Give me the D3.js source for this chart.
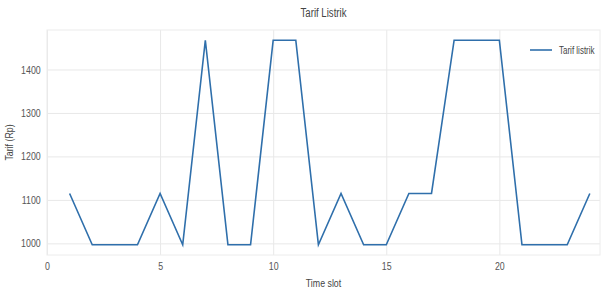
<!DOCTYPE html>
<html>
<head>
<meta charset="utf-8">
<script src="https://cdn.jsdelivr.net/npm/d3@7"></script>
<style>
  body { margin: 0; background: #fff; }
  text { font-family: "Liberation Sans", Arial, sans-serif; }
</style>
</head>
<body>
<svg></svg>
<script>
// Chart data: tariff per time slot
const slots = [1, 2, 3, 4, 5, 6, 7, 8, 9, 10, 11, 12, 13, 14, 15, 16, 17, 18, 19, 20, 21, 22, 23, 24];
const tarif = [1114.74, 996.74, 996.74, 996.74, 1114.74, 996.74, 1467.28, 996.74, 996.74, 1467.28, 1467.28, 996.74,
               1114.74, 996.74, 996.74, 1114.74, 1114.74, 1467.28, 1467.28, 1467.28, 996.74, 996.74, 996.74, 1114.74];
const xTicks = [0, 5, 10, 15, 20];
const yTicks = [1000, 1100, 1200, 1300, 1400];

const width = 606;
const height = 294;
const marginTop = 30;
const marginRight = 6;
const marginBottom = 39;
const marginLeft = 47;

const svg = d3.select("svg")
    .attr("width", width)
    .attr("height", height)
    .attr("viewBox", [0, 0, width, height]);

const data = slots.map((s, i) => ({slot: s, value: tarif[i]}));

// x runs from 0 to a bit past the last slot
const x = d3.scaleLinear([0, 24.45], [marginLeft, width - marginRight]);
// y with matplotlib-like 5% padding
const yMin = d3.min(tarif), yMax = d3.max(tarif);
const pad = (yMax - yMin) * 0.05;
const y = d3.scaleLinear([yMin - pad, yMax + pad], [height - marginBottom, marginTop]);

// the reference uses a narrow face, squeeze the text a bit
function condense(sel, k = 0.8) {
  sel.each(function() {
    const w = this.getComputedTextLength();
    d3.select(this).attr("textLength", w * k).attr("lengthAdjust", "spacingAndGlyphs");
  });
}

// grid lines
svg.append("g")
    .attr("transform", `translate(0,${height - marginBottom})`)
    .call(d3.axisBottom(x).tickValues(xTicks).tickSize(-(height - marginTop - marginBottom)).tickFormat(d3.format("d")))
    .call(g => g.select(".domain").remove())
    .call(g => g.selectAll(".tick line").attr("stroke", "#e8e8e8"))
    .call(g => g.selectAll(".tick text").attr("fill", "#555").attr("font-size", 11).attr("dy", "1.1em"))
    .call(g => condense(g.selectAll(".tick text")));

svg.append("g")
    .attr("transform", `translate(${marginLeft},0)`)
    .call(d3.axisLeft(y).tickValues(yTicks).tickSize(-(width - marginLeft - marginRight)).tickFormat(d3.format("d")))
    .call(g => g.select(".domain").remove())
    .call(g => g.selectAll(".tick line").attr("stroke", "#e8e8e8"))
    .call(g => g.selectAll(".tick text").attr("fill", "#555").attr("font-size", 11).attr("dx", "-0.3em"))
    .call(g => condense(g.selectAll(".tick text")));

// frame
svg.append("rect")
    .attr("x", marginLeft)
    .attr("y", marginTop)
    .attr("width", width - marginLeft - marginRight)
    .attr("height", height - marginTop - marginBottom)
    .attr("fill", "none")
    .attr("stroke", "#ececec");

// the line
const line = d3.line()
    .x(d => x(d.slot))
    .y(d => y(d.value));

svg.append("path")
    .datum(data)
    .attr("fill", "none")
    .attr("stroke", "#2f6fab")
    .attr("stroke-width", 1.6)
    .attr("d", line);

// title and axis labels
svg.append("text")
    .attr("x", (marginLeft + width - marginRight) / 2)
    .attr("y", 17)
    .attr("text-anchor", "middle")
    .attr("fill", "#444")
    .attr("font-size", 12)
    .text("Tarif Listrik")
    .call(condense);

svg.append("text")
    .attr("x", (marginLeft + width - marginRight) / 2)
    .attr("y", 287)
    .attr("text-anchor", "middle")
    .attr("fill", "#444")
    .attr("font-size", 11)
    .text("Time slot")
    .call(condense);

svg.append("text")
    .attr("transform", `translate(13,${(marginTop + height - marginBottom) / 2}) rotate(-90)`)
    .attr("text-anchor", "middle")
    .attr("fill", "#444")
    .attr("font-size", 11)
    .text("Tarif (Rp)")
    .call(condense);

// legend
const legend = svg.append("g").attr("transform", "translate(530,50)");
legend.append("line")
    .attr("x1", 0).attr("x2", 22)
    .attr("stroke", "#2f6fab")
    .attr("stroke-width", 1.6);
legend.append("text")
    .attr("x", 29)
    .attr("dy", "0.35em")
    .attr("fill", "#444")
    .attr("font-size", 10)
    .text("Tarif listrik")
    .call(condense);
</script>
</body>
</html>
